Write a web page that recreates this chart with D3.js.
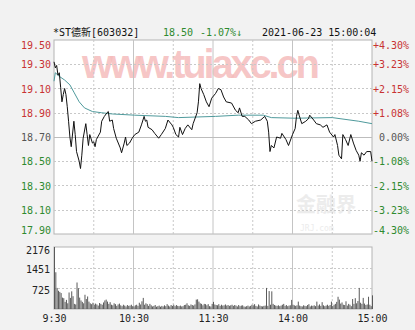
<!DOCTYPE html>
<html>
<head>
<meta charset="utf-8">
<script src="https://cdn.jsdelivr.net/npm/d3@7"></script>
<style>
  body { margin: 0; background: #f2f2f2; }
  svg { display: block; }
  text { font-family: "DejaVu Sans Mono", monospace; font-size: 10px; }
</style>
</head>
<body>
<div id="chart"></div>
<script>
// header
const stockName = "*ST德新[603032]";
const lastPrice = "18.50";
const changePct = "-1.07%↓";
const stamp = "2021-06-23 15:00:04";

const preClose = 18.70;
const priceTicks = [19.50, 19.30, 19.10, 18.90, 18.70, 18.50, 18.30, 18.10, 17.90];
const pctTicks = ["+4.30%", "+3.23%", "+2.15%", "+1.08%", "0.00%", "-1.08%", "-2.15%", "-3.23%", "-4.30%"];
const volTicks = [2176, 1451, 725];
const timeLabels = ["9:30", "10:30", "11:30", "14:00", "15:00"];
const timeMins = [0, 60, 120, 180, 240];

// price line, minute index -> price
const priceMin = [0, 1, 2, 3, 4, 5, 6, 7, 8, 9, 10, 11, 12, 13, 15, 16, 17, 19, 20, 21, 22, 24, 25, 26, 27, 29, 30, 31, 32, 35,
    36, 38, 40, 41, 42, 44, 45, 47, 50, 51, 53, 54, 55, 57, 59, 61, 64, 66, 68, 69, 70, 71, 74, 76, 79, 81, 84, 86, 89, 90,
    92, 94, 95, 97, 99, 101, 104, 105, 108, 109, 110, 111, 113, 115, 117, 119, 122, 124, 126, 128, 130, 134, 137, 139, 140, 142, 144, 147, 149, 152,
    156, 159, 161, 162, 163, 164, 166, 168, 171, 172, 175, 177, 180, 182, 183, 184, 185, 187, 190, 192, 193, 196, 198, 201, 203, 206, 208, 211, 212, 214,
    215, 217, 218, 220, 222, 224, 226, 228, 230, 231, 232, 234, 236, 239, 240];
const priceVal = [19.32, 19.27, 19.29, 19.21, 19.23, 19.11, 18.99, 19.05, 19.10, 19.05, 18.95, 18.83, 18.70, 18.62, 18.83, 18.72, 18.58, 18.50, 18.44, 18.55, 18.69, 18.81, 18.72, 18.63, 18.72, 18.65, 18.66, 18.62, 18.68, 18.74,
    18.83, 18.87, 18.90, 18.91, 18.83, 18.84, 18.77, 18.69, 18.61, 18.57, 18.65, 18.70, 18.63, 18.65, 18.69, 18.72, 18.74, 18.80, 18.87, 18.83, 18.84, 18.78, 18.76, 18.73, 18.69, 18.72, 18.77, 18.84, 18.80, 18.78,
    18.72, 18.70, 18.78, 18.72, 18.77, 18.80, 18.76, 18.81, 18.90, 18.99, 19.14, 19.10, 19.05, 18.99, 18.95, 19.02, 19.06, 19.10, 19.09, 19.03, 18.99, 18.98, 18.92, 18.90, 18.94, 18.87, 18.87, 18.84, 18.81, 18.83,
    18.84, 18.87, 18.83, 18.74, 18.58, 18.63, 18.61, 18.70, 18.69, 18.73, 18.68, 18.63, 18.72, 18.77, 18.87, 18.92, 18.88, 18.81, 18.83, 18.85, 18.88, 18.84, 18.81, 18.80, 18.78, 18.80, 18.74, 18.70, 18.72, 18.63,
    18.55, 18.52, 18.72, 18.68, 18.63, 18.72, 18.65, 18.59, 18.55, 18.50, 18.57, 18.55, 18.58, 18.58, 18.50];

// average price line
const avgMin = [0, 1, 4, 8, 12, 15, 19, 23, 29, 36, 44, 61, 84, 94, 122, 139, 158, 164, 182, 210, 230, 240];
const avgVal = [19.16, 19.23, 19.20, 19.17, 19.13, 19.07, 18.99, 18.94, 18.91, 18.90, 18.89, 18.88, 18.87, 18.86, 18.87, 18.88, 18.88, 18.86, 18.855, 18.86, 18.83, 18.81];

// volume per minute (9:30 .. 15:00)
const volume = [
    2176, 1290, 740, 640, 600, 560, 400, 380, 250, 320, 200, 580, 390, 620, 450, 180, 160, 930, 730, 400,
    300, 250, 200, 500, 350, 440, 260, 200, 170, 220, 150, 190, 160, 120, 210, 180, 150, 230, 300, 330,
    260, 180, 240, 150, 130, 200, 170, 110, 160, 190, 130, 100, 150, 120, 90, 140, 110, 120, 150, 100,
    90, 130, 150, 110, 220, 160, 270, 390, 150, 200, 170, 110, 180, 130, 90, 110, 140, 80, 100, 120,
    80, 110, 90, 130, 100, 170, 120, 90, 140, 110, 150, 100, 140, 110, 100, 120, 90, 100, 140, 150,
    200, 130, 110, 160, 140, 120, 160, 330, 340, 260, 200, 180, 130, 180, 170, 130, 170, 100, 90, 180,
    250, 160, 140, 130, 170, 110, 150, 120, 130, 160, 120, 140, 110, 130, 150, 110, 140, 120, 90, 140,
    100, 120, 130, 90, 80, 100, 120, 90, 110, 150, 130, 170, 110, 90, 160, 120, 100, 90, 110, 120,
    740, 110, 630, 150, 620, 180, 140, 120, 110, 130, 100, 120, 150, 180, 110, 140, 100, 120, 130, 320,
    150, 130, 110, 130, 260, 120, 100, 90, 130, 110, 100, 140, 170, 90, 120, 110, 130, 100, 260, 120,
    160, 110, 240, 130, 100, 120, 150, 110, 140, 260, 110, 150, 180, 250, 430, 330, 190, 230, 150, 140,
    270, 120, 180, 150, 100, 350, 180, 380, 200, 280, 740, 220, 180, 390, 190, 140, 160, 430, 150, 100,
    480
];

const W = 415, H = 330;
const left = 54, right = 372;
const pTop = 40, pBottom = 234;
const vTop = 247, vBottom = 309;

const red = "#c83232", green = "#2f8a2f", gray = "#555";

const svg = d3.select("#chart").append("svg")
    .attr("width", W)
    .attr("height", H);

svg.append("rect").attr("width", W).attr("height", H).attr("fill", "#f2f2f2");

const x = d3.scaleLinear().domain([0, 240]).range([left, right]);
const yP = d3.scaleLinear().domain([17.90, 19.50]).range([pBottom, pTop]);
const yV = d3.scaleLinear().domain([0, 2176]).range([vBottom, vTop]);

// panels
svg.append("rect").attr("x", left).attr("y", pTop).attr("width", right - left).attr("height", pBottom - pTop)
    .attr("fill", "#fff").attr("stroke", "#b4b4b4");
svg.append("rect").attr("x", left).attr("y", vTop).attr("width", right - left).attr("height", vBottom - vTop)
    .attr("fill", "#fff").attr("stroke", "#b4b4b4");

// watermark
svg.append("text")
    .attr("x", 82).attr("y", 78)
    .attr("textLength", 238)
    .style("font-family", "Liberation Sans, Arial, sans-serif")
    .style("font-size", "40px")
    .style("font-weight", "bold")
    .attr("fill", "#f5bcbc")
    .attr("fill-opacity", 0.85)
    .text("www.tuiaxc.cn");
svg.append("text")
    .attr("x", 296).attr("y", 212)
    .style("font-family", "Noto Sans CJK SC, sans-serif")
    .style("font-size", "20px")
    .style("font-weight", "bold")
    .attr("fill", "#ececec")
    .text("金融界");
svg.append("text")
    .attr("x", 300).attr("y", 231)
    .style("font-size", "8px")
    .attr("fill", "#ececec")
    .text("JRJ.com");

// gridlines
const gridMins = d3.range(30, 240, 30);
[[pTop, pBottom], [vTop, vBottom]].forEach(([t, b]) => {
    svg.append("g").selectAll("line")
        .data(gridMins)
        .join("line")
        .attr("x1", d => x(d)).attr("x2", d => x(d))
        .attr("y1", t).attr("y2", b)
        .attr("stroke", d => d % 60 === 0 ? "#c4c4c4" : "#c8c8c8")
        .attr("stroke-dasharray", d => d % 60 === 0 ? null : "2,2");
});

svg.append("g").selectAll("line")
    .data(priceTicks.slice(1, -1))
    .join("line")
    .attr("x1", left).attr("x2", right)
    .attr("y1", d => Math.round(yP(d)) + 0.5).attr("y2", d => Math.round(yP(d)) + 0.5)
    .attr("stroke", d => d === preClose ? "#bdbdbd" : "#c8c8c8")
    .attr("stroke-dasharray", d => d === preClose ? null : "2,2");

svg.append("g").selectAll("line")
    .data(volTicks.slice(1))
    .join("line")
    .attr("x1", left).attr("x2", right)
    .attr("y1", d => Math.round(yV(d)) + 0.5).attr("y2", d => Math.round(yV(d)) + 0.5)
    .attr("stroke", "#c8c8c8")
    .attr("stroke-dasharray", "2,2");

// price axes
const tickColor = v => v > preClose ? red : (v < preClose ? green : gray);

const axL = svg.append("g")
    .attr("transform", "translate(" + left + ",0)")
    .call(d3.axisLeft(yP).tickValues(priceTicks).tickSize(0).tickPadding(3).tickFormat(d3.format(".2f")));
axL.select(".domain").remove();
axL.selectAll("text")
    .attr("fill", d => tickColor(d))
    .style("font-family", "DejaVu Sans Mono, monospace")
    .style("font-size", "10px")
    .attr("dy", d => d === 19.50 ? "0.85em" : (d === 17.90 ? "-0.05em" : "0.35em"));

const axR = svg.append("g")
    .attr("transform", "translate(" + 409 + ",0)")
    .call(d3.axisLeft(yP).tickValues(priceTicks).tickSize(0).tickPadding(0).tickFormat((d, i) => pctTicks[i]));
axR.select(".domain").remove();
axR.selectAll("text")
    .attr("fill", d => tickColor(d))
    .style("font-family", "DejaVu Sans Mono, monospace")
    .style("font-size", "10px")
    .attr("dy", d => d === 19.50 ? "0.85em" : (d === 17.90 ? "-0.05em" : "0.35em"));

// volume axis
const axV = svg.append("g")
    .attr("transform", "translate(" + (left - 4) + ",0)")
    .call(d3.axisLeft(yV).tickValues(volTicks).tickSize(0).tickPadding(0).tickFormat(d3.format("d")));
axV.select(".domain").remove();
axV.selectAll("text")
    .attr("fill", "#222")
    .style("font-family", "DejaVu Sans Mono, monospace")
    .style("font-size", "10px")
    .attr("dy", (d, i) => i === 0 ? "0.6em" : "0.5em");

// time axis
const axT = svg.append("g")
    .attr("transform", "translate(0," + vBottom + ")")
    .call(d3.axisBottom(x).tickValues(timeMins).tickSize(0).tickPadding(6).tickFormat((d, i) => timeLabels[i]));
axT.select(".domain").remove();
axT.selectAll("text")
    .attr("fill", "#222")
    .style("font-family", "DejaVu Sans Mono, monospace")
    .style("font-size", "10px");

// volume bars
svg.append("g").selectAll("rect")
    .data(volume)
    .join("rect")
    .attr("x", (d, i) => x(i))
    .attr("width", 1)
    .attr("y", d => yV(d))
    .attr("height", d => vBottom - yV(d))
    .attr("fill", "#5a5a5a");

// average line
const avgLine = d3.line().x(d => x(d[0])).y(d => yP(d[1]));
svg.append("path")
    .datum(avgMin.map((m, i) => [m, avgVal[i]]))
    .attr("d", avgLine)
    .attr("fill", "none")
    .attr("stroke", "#4f9a9c")
    .attr("stroke-width", 1);

// price line
svg.append("path")
    .datum(priceMin.map((m, i) => [m, priceVal[i]]))
    .attr("d", avgLine)
    .attr("fill", "none")
    .attr("stroke", "#111")
    .attr("stroke-width", 1);

// header
svg.append("text").attr("x", 53).attr("y", 36).attr("fill", "#111")
    .style("font-family", "DejaVu Sans Mono, Noto Sans CJK SC, monospace").text(stockName);
svg.append("text").attr("x", 163).attr("y", 36).attr("fill", green).text(lastPrice);
svg.append("text").attr("x", 200).attr("y", 36).attr("fill", green).text(changePct);
svg.append("text").attr("x", 262).attr("y", 36).attr("fill", "#111").text(stamp);
</script>
</body>
</html>
